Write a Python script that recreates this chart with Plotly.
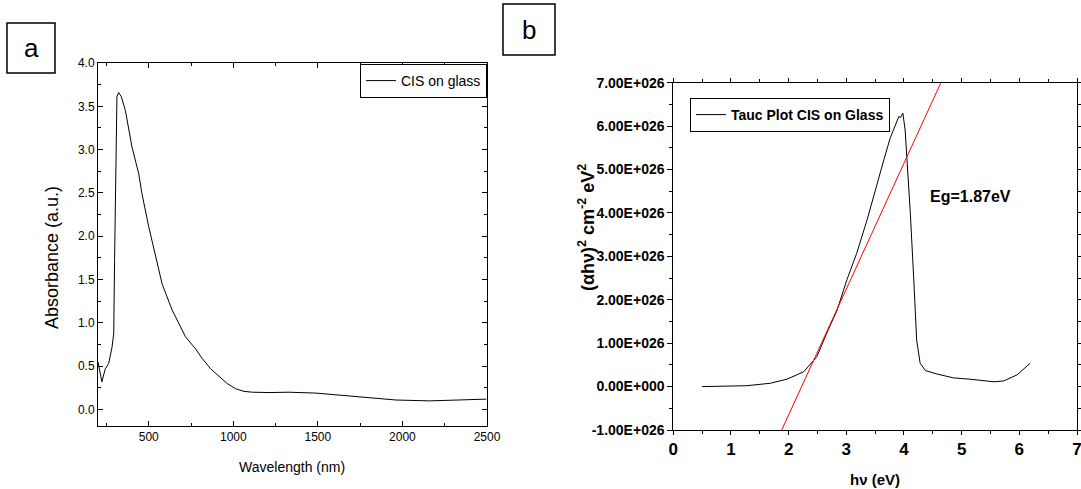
import plotly.graph_objects as go

# ---- panel (a): absorbance spectrum ----
wavelength_nm = [200, 223, 243, 263, 283, 293, 298, 306, 312, 322, 338, 362, 381, 401,
                 441, 460, 500, 540, 579, 638, 678, 717, 777, 816, 866, 915, 964, 1014,
                 1063, 1113, 1211, 1330, 1488, 1606, 1765, 1962, 2160, 2496]
absorbance = [0.55, 0.32, 0.47, 0.53, 0.72, 0.88, 1.72, 3.26, 3.61, 3.66, 3.61, 3.45, 3.23, 3.03,
              2.72, 2.49, 2.11, 1.76, 1.45, 1.15, 0.99, 0.84, 0.70, 0.59, 0.47, 0.38, 0.30, 0.24,
              0.21, 0.20, 0.196, 0.20, 0.19, 0.17, 0.14, 0.11, 0.10, 0.12]
a_xticks = [500, 1000, 1500, 2000, 2500]
a_yticks = [0.0, 0.5, 1.0, 1.5, 2.0, 2.5, 3.0, 3.5, 4.0]

# ---- panel (b): Tauc plot ----
photon_energy_ev = [0.50, 1.27, 1.68, 1.97, 2.26, 2.49, 2.66, 2.84, 3.01, 3.18, 3.36, 3.53,
                    3.65, 3.76, 3.88, 3.91, 3.94, 3.98, 4.02, 4.06, 4.11, 4.17, 4.22, 4.28,
                    4.37, 4.57, 4.86, 5.15, 5.56, 5.73, 5.96, 6.19]
tauc_e26 = [0.0, 0.02, 0.076, 0.17, 0.34, 0.69, 1.23, 1.76, 2.46, 3.07, 3.84, 4.68,
            5.22, 5.72, 6.14, 6.22, 6.20, 6.30, 5.91, 5.14, 3.99, 2.46, 1.07, 0.54,
            0.37, 0.29, 0.20, 0.17, 0.11, 0.13, 0.27, 0.54]
fit_ev = [1.88, 4.66]
fit_e26 = [-1.0, 7.06]
b_yticks_e26 = [-1, 0, 1, 2, 3, 4, 5, 6, 7]
b_yticklabels = ["-1.00E+026", "0.00E+000", "1.00E+026", "2.00E+026", "3.00E+026",
                 "4.00E+026", "5.00E+026", "6.00E+026", "7.00E+026"]
b_xticks = [0, 1, 2, 3, 4, 5, 6, 7]

SCALE = 1e26
FONT = "Liberation Sans, Arial, sans-serif"
W, H = 1081, 489

def px(x):
    return x / W

def py(y):
    return 1 - y / H

fig = go.Figure()

fig.add_trace(go.Scatter(x=wavelength_nm, y=absorbance, mode="lines",
                         line=dict(color="black", width=1), name="CIS on glass",
                         xaxis="x", yaxis="y", legend="legend"))
fig.add_trace(go.Scatter(x=photon_energy_ev, y=[v * SCALE for v in tauc_e26], mode="lines",
                         line=dict(color="black", width=1), name="<b>Tauc Plot CIS on Glass</b>",
                         xaxis="x2", yaxis="y2", legend="legend2"))
fig.add_trace(go.Scatter(x=fit_ev, y=[v * SCALE for v in fit_e26], mode="lines",
                         line=dict(color="red", width=1), showlegend=False,
                         xaxis="x2", yaxis="y2"))

axis_common = dict(showline=True, linecolor="black", linewidth=1, showgrid=False,
                   zeroline=False, mirror="ticks", tickcolor="black", automargin=False,
                   ticklabeloverflow="allow")

fig.update_layout(
    width=W, height=H, margin=dict(l=0, r=0, t=0, b=0, pad=0, autoexpand=False),
    paper_bgcolor="white", plot_bgcolor="white",
    font=dict(family=FONT, color="black"),
    xaxis=dict(domain=[px(98), px(487)], range=[200, 2500], tickvals=a_xticks,
               ticks="inside", ticklen=5, tickfont=dict(size=12),
               minor=dict(dtick=250, tick0=0, ticks="inside", ticklen=3, tickcolor="black"),
               anchor="y", **axis_common),
    yaxis=dict(domain=[py(426), py(63)], range=[-0.19, 4.0], tickvals=a_yticks,
               tickformat=".1f", ticks="inside", ticklen=5, tickfont=dict(size=12),
               minor=dict(dtick=0.25, tick0=0, ticks="inside", ticklen=3, tickcolor="black"),
               anchor="x", **axis_common),
    xaxis2=dict(domain=[px(673.3), px(1077)], range=[0, 7], tickvals=b_xticks,
                ticks="outside", ticklen=4, tickfont=dict(size=17, weight="bold"),
                minor=dict(dtick=0.5, tick0=0, ticks="outside", ticklen=3, tickcolor="black"),
                anchor="y2", **axis_common),
    yaxis2=dict(domain=[py(430), py(82.7)], range=[-1 * SCALE, 7 * SCALE],
                tickvals=[v * SCALE for v in b_yticks_e26], ticktext=b_yticklabels,
                ticks="outside", ticklen=5, tickfont=dict(size=14, weight="bold"),
                minor=dict(dtick=0.5 * SCALE, tick0=0, ticks="outside", ticklen=3,
                           tickcolor="black"),
                anchor="x2", **axis_common),
    legend=dict(x=px(487), y=py(64), xanchor="right", yanchor="top",
                bgcolor="white", bordercolor="black", borderwidth=1,
                font=dict(size=14, family=FONT), tracegroupgap=0,
                itemwidth=30),
    legend2=dict(x=px(690), y=py(98), xanchor="left", yanchor="top",
                 bgcolor="white", bordercolor="black", borderwidth=1,
                 font=dict(size=14, family=FONT), itemwidth=30),
    showlegend=True,
)

annotations = [
    dict(text="Absorbance (a.u.)", x=px(52), y=py(258), textangle=-90,
         font=dict(size=18)),
    dict(text="Wavelength (nm)", x=px(292), y=py(467), font=dict(size=14)),
    dict(text="<b>(αhν)<sup>2</sup> cm<sup>-2</sup> eV<sup>2</sup></b>", x=px(586), y=py(228),
         textangle=-90, font=dict(size=18)),
    dict(text="<b>hν (eV)</b>", x=px(875), y=py(479), font=dict(size=15)),
    dict(text="<b>Eg=1.87eV</b>", x=5.15, y=4.39 * SCALE, xref="x2", yref="y2",
         font=dict(size=16)),
    dict(text="a", x=px(31), y=py(48), font=dict(size=26)),
    dict(text="b", x=px(529), y=py(30), font=dict(size=26)),
]
for a in annotations:
    a.setdefault("xref", "paper")
    a.setdefault("yref", "paper")
    a.update(showarrow=False, xanchor="center", yanchor="middle")
fig.update_layout(annotations=annotations)

fig.update_layout(shapes=[
    dict(type="rect", xref="paper", yref="paper", x0=px(7), x1=px(55), y0=py(73), y1=py(23),
         line=dict(color="black", width=1.5)),
    dict(type="rect", xref="paper", yref="paper", x0=px(503), x1=px(555), y0=py(55), y1=py(4),
         line=dict(color="black", width=1.5)),
])

fig.write_html("out.html", config={"displayModeBar": False},
               post_script="document.body.style.margin='0';document.body.style.overflow='hidden';")
